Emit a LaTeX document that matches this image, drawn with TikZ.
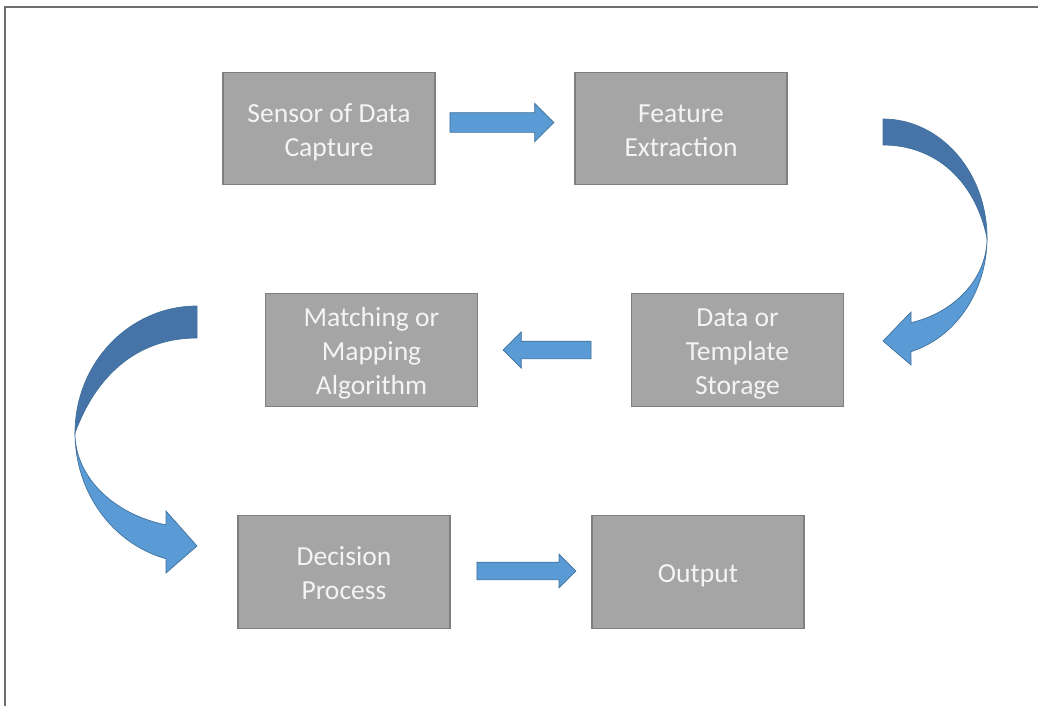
\documentclass[tikz,border=0pt]{standalone}
\usepackage{fontspec}
\setmainfont{Carlito}
\usetikzlibrary{shapes.arrows}
\definecolor{boxgray}{HTML}{A5A5A5}
\definecolor{boxedge}{HTML}{7F7F7F}
\definecolor{boxtext}{HTML}{F4F4F4}
\definecolor{arrowblue}{HTML}{5B9BD5}
\definecolor{arrowdark}{HTML}{4674A8}
\definecolor{arrowedge}{HTML}{41719C}
\definecolor{framegray}{HTML}{6E6E6E}
\newcommand{\stagetop}{\rule{0pt}{20pt}}
\newcommand{\stagebot}{\rule[-4.5pt]{0pt}{4.5pt}}

\begin{document}
\begin{tikzpicture}[x=0.025cm, y=-0.025cm,
    stage/.style={rectangle, draw=boxedge, line width=0.9pt, fill=boxgray, text=boxtext,
        minimum width=5.3cm, minimum height=2.81cm, align=center,
        font=\fontsize{19.6}{24.2}\selectfont},
    blockarrow/.style={single arrow, draw=arrowedge, line width=0.5pt, fill=arrowblue,
        inner xsep=0pt, inner ysep=0.2125cm, single arrow head extend=0.235cm},
    ribbonback/.style={fill=arrowdark, draw=arrowedge, line width=0.5pt},
    ribbonfront/.style={fill=arrowblue, draw=arrowedge, line width=0.5pt}]
    \useasboundingbox (0,0) rectangle (1038,706);
    \draw[framegray, line width=1.1pt] (5,706) -- (5,7) -- (1038,7);

    \node[stage] (sensor) at (329,128.5) {\stagetop Sensor of Data\\Capture\stagebot};
    \node[stage] (feature) at (681,128.5) {\stagetop Feature\\Extraction\stagebot};
    \node[stage] (storage) at (737.5,350) {\stagetop Data or\\Template\\Storage\stagebot};
    \node[stage] (matching) at (371.5,350) {\stagetop Matching or\\Mapping\\Algorithm\stagebot};
    \node[stage] (decision) at (344,572) {\stagetop Decision\\Process\stagebot};
    \node[stage] (output) at (698,572) {\stagetop Output\stagebot};

    \path (sensor.east) -- (feature.west)
        node[blockarrow, midway, minimum height=2.6cm, inner ysep=0.2375cm,
            xshift=-0.2cm, yshift=0.15cm] (arrowA) {};
    \path (storage.west) -- (matching.east)
        node[blockarrow, midway, shape border rotate=180, minimum height=2.2cm,
            xshift=-0.075cm] (arrowB) {};
    \path (decision.east) -- (output.west)
        node[blockarrow, midway, minimum height=2.475cm, single arrow head extend=0.2cm,
            xshift=0.025cm, yshift=0.025cm] (arrowC) {};

    \fill[ribbonback] (883,119) arc[start angle=-90, end angle=0, x radius=104, y radius=119]
        .. controls (975,180) and (935,145) .. (883,145) -- cycle;
    \fill[ribbonfront] (987,238) arc[start angle=0, end angle=74.4, x radius=104, y radius=118]
        -- (911,365) -- (883,341) -- (911,312) -- (911,322.7)
        arc[start angle=74.4, end angle=0, x radius=104, y radius=88] -- cycle;

    \fill[ribbonback] (197,306) arc[start angle=-90, end angle=-180, x radius=122, y radius=127]
        .. controls (95,378) and (135,338) .. (197,338) -- cycle;
    \fill[ribbonfront] (75,433) arc[start angle=180, end angle=104.7, x radius=122, y radius=130]
        -- (166,573) -- (197,546) -- (166,511) -- (166,524.9)
        arc[start angle=104.7, end angle=180, x radius=122, y radius=95] -- cycle;
\end{tikzpicture}
\end{document}
